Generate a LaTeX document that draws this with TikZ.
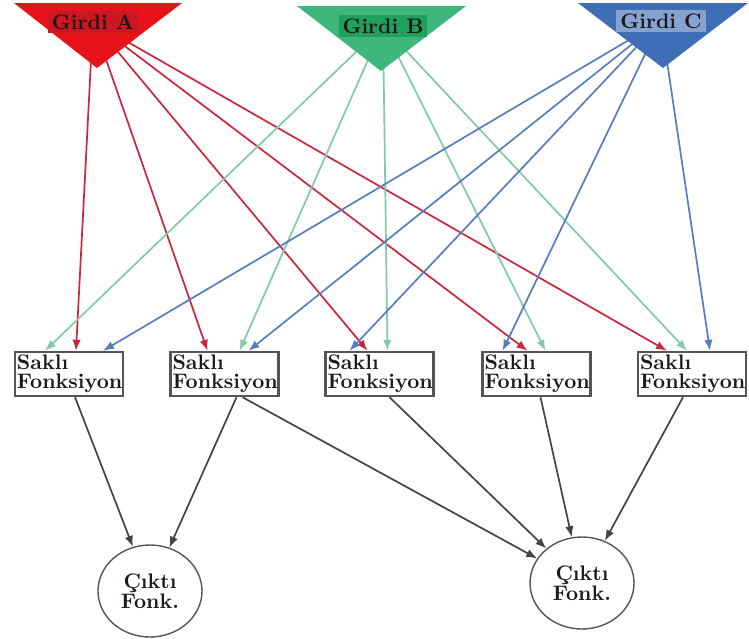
\documentclass[tikz,border=0pt]{standalone}
\usetikzlibrary{arrows.meta,shapes.geometric,backgrounds}
\definecolor{redfill}{RGB}{230,20,26}
\definecolor{redlab}{RGB}{205,22,34}
\definecolor{redline}{RGB}{204,38,58}
\definecolor{greenfill}{RGB}{62,182,124}
\definecolor{greenlab}{RGB}{32,160,92}
\definecolor{greenline}{RGB}{128,202,170}
\definecolor{bluefill}{RGB}{64,110,182}
\definecolor{bluelab}{RGB}{134,162,208}
\definecolor{blueline}{RGB}{88,124,192}
\definecolor{boxgray}{RGB}{85,85,85}
\definecolor{inktext}{RGB}{30,24,24}
\tikzset{
	girdi/.style={inner sep=2pt, text=inktext, font=\bfseries\fontsize{10.5}{12}\selectfont},
	sakli/.style={draw=boxgray, fill=white, line width=1.2pt, text width=52pt, align=left, inner sep=1pt, minimum height=22pt, text=inktext, font=\bfseries\fontsize{10.5}{9.5}\selectfont},
	cikti/.style={ellipse, draw=boxgray, fill=white, line width=0.7pt, minimum width=52pt, minimum height=46pt, inner sep=0pt, align=center, text=inktext, font=\bfseries\fontsize{10.5}{10}\selectfont},
	wire/.style={line width=0.85pt, -{Latex[length=5.5pt,width=4.2pt]}},
}
\begin{document}
\begin{tikzpicture}[x=0.5pt, y=-0.5pt]
	\useasboundingbox (0,0) rectangle (749,638);
	% input triangles
	\fill[redfill] (14,3) -- (182,3) -- (97,68) -- cycle;
	\fill[greenfill] (297,6) -- (466,6) -- (381,71) -- cycle;
	\fill[bluefill] (578,3) -- (748,3) -- (663,68) -- cycle;
	\node[girdi, fill=redlab] (gA) at (93,22) {Girdi A};
	\node[girdi, fill=greenlab] (gB) at (383,26) {Girdi B};
	\node[girdi, fill=bluelab] (gC) at (661,21) {Girdi C};
	% hidden layer
	\node[sakli] (s1) at (69,374) {Saklı\\Fonksiyon};
	\node[sakli] (s2) at (224.5,374) {Saklı\\Fonksiyon};
	\node[sakli] (s3) at (379.5,374) {Saklı\\Fonksiyon};
	\node[sakli] (s4) at (536.5,374) {Saklı\\Fonksiyon};
	\node[sakli] (s5) at (692,374) {Saklı\\Fonksiyon};
	% outputs
	\node[cikti] (c1) at (150,591) {Çıktı\\Fonk.};
	\node[cikti] (c2) at (582,583) {Çıktı\\Fonk.};
	\begin{pgfonlayer}{background}
		\draw[wire, redline] (gA) to ([xshift=3.5pt]s1.north);
		\draw[wire, redline] (gA) to ([xshift=-8.5pt]s2.north);
		\draw[wire, redline] (gA) to ([xshift=-6pt]s3.north);
		\draw[wire, redline] (gA) to ([xshift=-4.5pt]s4.north);
		\draw[wire, redline] (gA) to ([xshift=-12.5pt]s5.north);
		\draw[wire, greenline] (gB) to ([xshift=-12pt]s1.north);
		\draw[wire, greenline] (gB) to ([xshift=7.5pt]s2.north);
		\draw[wire, greenline] (gB) to ([xshift=4pt]s3.north);
		\draw[wire, greenline] (gB) to ([xshift=4.5pt]s4.north);
		\draw[wire, greenline] (gB) to ([xshift=-2.5pt]s5.north);
		\draw[wire, blueline] (gC) to ([xshift=17pt]s1.north);
		\draw[wire, blueline] (gC) to ([xshift=12pt]s2.north);
		\draw[wire, blueline] (gC) to ([xshift=-15pt]s3.north);
		\draw[wire, blueline] (gC) to ([xshift=-17pt]s4.north);
		\draw[wire, blueline] (gC) to ([xshift=9pt]s5.north);
	\end{pgfonlayer}
	\draw[wire, boxgray!80!black] ([xshift=3pt]s1.south) to (c1);
	\draw[wire, boxgray!80!black] ([xshift=6pt]s2.south) to (c1);
	\draw[wire, boxgray!80!black] ([xshift=9pt]s2.south) to (c2);
	\draw[wire, boxgray!80!black] ([xshift=5pt]s3.south) to (c2);
	\draw[wire, boxgray!80!black] ([xshift=2pt]s4.south) to (c2);
	\draw[wire, boxgray!80!black] ([xshift=-4.5pt]s5.south) to (c2);
\end{tikzpicture}
\end{document}
